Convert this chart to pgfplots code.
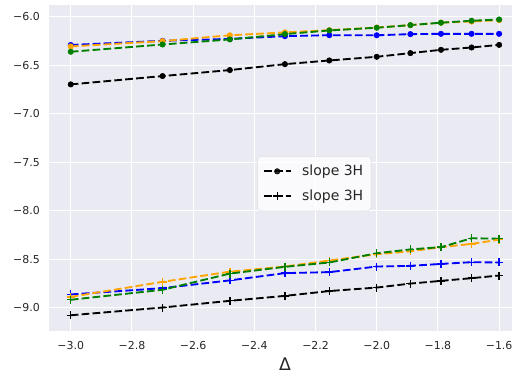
\documentclass[border=0pt]{standalone}
\usepackage{fontspec}
\setmainfont{DejaVu Sans}
\usepackage{pgfplots}
\pgfplotsset{compat=1.18}
\definecolor{bgc}{HTML}{EAEAF2}
\definecolor{txt}{HTML}{262626}
\definecolor{mplorange}{HTML}{FFA500}
\definecolor{mplgreen}{HTML}{008000}
\definecolor{mplblue}{HTML}{0000FF}
\tikzset{dl/.style={line width=1.4pt, dash pattern=on 5.8pt off 2.4pt},
  dotm/.style={mark=*, mark size=2pt, mark options={solid, line width=0.5pt}},
  plusm/.style={mark=+, mark size=3pt, mark options={solid, line width=1pt}}}
\begin{document}
\begin{tikzpicture}
\useasboundingbox (-37pt,-34pt) rectangle (347pt,248pt);
\clip (-37pt,-34pt) rectangle (347pt,248pt);
\begin{axis}[name=ax, at={(0pt,0pt)}, anchor=south west, scale only axis, width=353.4pt, height=244.5pt,
 xmin=-3.07, xmax=-1.53, ymin=-9.239, ymax=-5.874,
 axis background/.style={fill=bgc},
 axis line style={draw=none},
 major tick length=0pt,
 grid=major, major grid style={white, line width=0.8pt},
 xtick={-3.0,-2.8,-2.6,-2.4,-2.2,-2.0,-1.8,-1.6},
 xticklabels={−3.0,−2.8,−2.6,−2.4,−2.2,−2.0,−1.8,−1.6},
 ytick={-9,-8.5,-8,-7.5,-7,-6.5,-6},
 yticklabels={−9.0,−8.5,−8.0,−7.5,−7.0,−6.5,−6.0},
 ticklabel style={font=\fontsize{8.2}{9.8}\selectfont, text=txt, inner sep=0pt},
 xticklabel style={anchor=north, yshift=-7.5pt},
 yticklabel style={anchor=east, xshift=-7pt},
 xlabel={Δ},
 xlabel style={font=\fontsize{13}{15}\selectfont, text=txt, at={(axis description cs:0.5,0)}, anchor=north, inner sep=0pt, yshift=-20pt},
 legend style={at={(0.5626,0.451)}, anchor=center, draw=black!12, fill=white, fill opacity=0.8, text opacity=1, rounded corners=3pt, font=\fontsize{10.5}{12.5}\selectfont, text=txt, inner xsep=4pt, inner ysep=4.5pt, row sep=5pt},
 legend cell align=left,
 legend image code/.code={\draw[#1] (0pt,0pt) -- (20pt,0pt); \draw[#1, solid] plot coordinates {(10pt,0pt)};},
 legend style={/tikz/every odd column/.append style={column sep=6pt}},
]
% upper series
\addplot[mplblue, dl, dotm, forget plot] coordinates {
(-3.0,-6.29) (-2.70,-6.247) (-2.48,-6.227) (-2.30,-6.199) (-2.155,-6.189) (-2.0,-6.19) (-1.89,-6.178) (-1.79,-6.175) (-1.69,-6.175) (-1.60,-6.175)};
\addplot[mplorange, dl, dotm, forget plot] coordinates {
(-3.0,-6.305) (-2.70,-6.25) (-2.48,-6.19) (-2.30,-6.16) (-2.155,-6.137) (-2.0,-6.11) (-1.89,-6.085) (-1.79,-6.06) (-1.69,-6.048) (-1.60,-6.034)};
\addplot[mplgreen, dl, dotm, forget plot] coordinates {
(-3.0,-6.36) (-2.70,-6.285) (-2.48,-6.233) (-2.30,-6.178) (-2.155,-6.14) (-2.0,-6.112) (-1.89,-6.085) (-1.79,-6.06) (-1.69,-6.04) (-1.60,-6.027)};
% lower series
\addplot[mplblue, dl, plusm, forget plot] coordinates {
(-3.0,-8.865) (-2.70,-8.80) (-2.48,-8.72) (-2.30,-8.645) (-2.155,-8.635) (-2.0,-8.577) (-1.89,-8.57) (-1.79,-8.55) (-1.69,-8.532) (-1.60,-8.535)};
\addplot[mplorange, dl, plusm, forget plot] coordinates {
(-3.0,-8.89) (-2.70,-8.735) (-2.48,-8.63) (-2.30,-8.577) (-2.155,-8.515) (-2.0,-8.45) (-1.89,-8.42) (-1.79,-8.377) (-1.69,-8.343) (-1.60,-8.30)};
\addplot[mplgreen, dl, plusm, forget plot] coordinates {
(-3.0,-8.92) (-2.70,-8.817) (-2.48,-8.65) (-2.30,-8.58) (-2.155,-8.535) (-2.0,-8.44) (-1.89,-8.40) (-1.79,-8.377) (-1.69,-8.285) (-1.60,-8.29)};
% black reference slopes
\addplot[black, dl, dotm] coordinates {
(-3.0,-6.697) (-2.70,-6.611) (-2.48,-6.549) (-2.30,-6.488) (-2.155,-6.45) (-2.0,-6.412) (-1.89,-6.374) (-1.79,-6.34) (-1.69,-6.316) (-1.60,-6.289)};
\addlegendentry{slope 3H}
\addplot[black, dl, plusm] coordinates {
(-3.0,-9.08) (-2.70,-9.0) (-2.48,-8.931) (-2.30,-8.88) (-2.155,-8.83) (-2.0,-8.794) (-1.89,-8.753) (-1.79,-8.725) (-1.69,-8.697) (-1.60,-8.67)};
\addlegendentry{slope 3H}
\end{axis}
\end{tikzpicture}
\end{document}
